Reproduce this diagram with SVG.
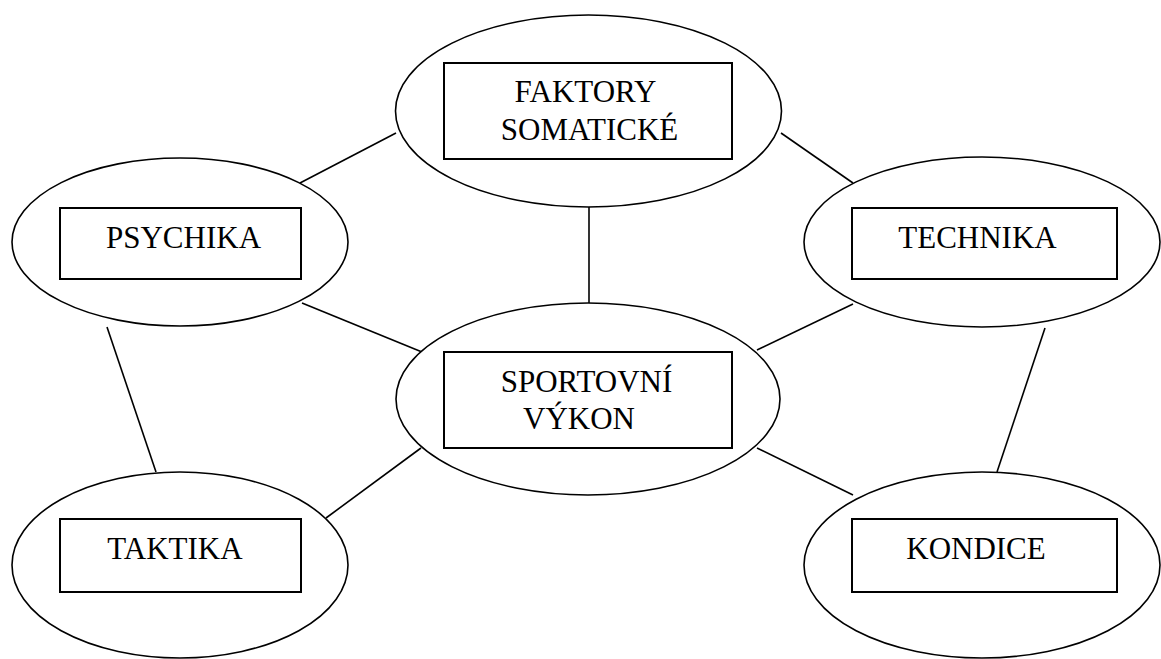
<svg xmlns="http://www.w3.org/2000/svg" width="1161" height="659" viewBox="0 0 1161 659">
<style>
ellipse{fill:#fff;stroke:#000;stroke-width:1.6}
rect{fill:#fff;stroke:#000;stroke-width:2}
line{stroke:#000;stroke-width:1.6}
text{font-family:"Liberation Serif","Times New Roman",serif;font-size:31px;fill:#000;text-anchor:middle}
</style>
<rect x="0" y="0" width="1161" height="659" style="stroke:none"/>
<g id="connectors">
<line x1="300" y1="183" x2="396" y2="133"/>
<line x1="781" y1="133" x2="853" y2="183"/>
<line x1="589" y1="207" x2="589" y2="303"/>
<line x1="302" y1="303" x2="422" y2="352"/>
<line x1="757" y1="350" x2="853" y2="304"/>
<line x1="107" y1="327" x2="156" y2="472"/>
<line x1="1045" y1="328" x2="997" y2="472"/>
<line x1="421" y1="448" x2="326" y2="518"/>
<line x1="757" y1="448" x2="853" y2="495"/>
</g>
<g id="faktory">
<ellipse cx="588.5" cy="111" rx="193" ry="96"/>
<rect x="444" y="63" width="288" height="96"/>
<text x="585.5" y="102">FAKTORY</text>
<text x="589.5" y="140">SOMATICKÉ</text>
</g>
<g id="psychika">
<ellipse cx="180" cy="242" rx="168" ry="84"/>
<rect x="60" y="208" width="241" height="71"/>
<text x="183.5" y="248">PSYCHIKA</text>
</g>
<g id="technika">
<ellipse cx="982" cy="242" rx="178" ry="85"/>
<rect x="852" y="208" width="265" height="71"/>
<text x="977.5" y="248">TECHNIKA</text>
</g>
<g id="sportovni">
<ellipse cx="588" cy="399" rx="192" ry="96"/>
<rect x="444" y="352" width="288" height="96"/>
<text x="586.5" y="392">SPORTOVNÍ</text>
<text x="579" y="429">VÝKON</text>
</g>
<g id="taktika">
<ellipse cx="180" cy="565" rx="168" ry="93"/>
<rect x="60" y="519" width="241" height="73"/>
<text x="175" y="559">TAKTIKA</text>
</g>
<g id="kondice">
<ellipse cx="982" cy="565" rx="178" ry="93"/>
<rect x="852" y="519" width="265" height="73"/>
<text x="976" y="559">KONDICE</text>
</g>
</svg>
